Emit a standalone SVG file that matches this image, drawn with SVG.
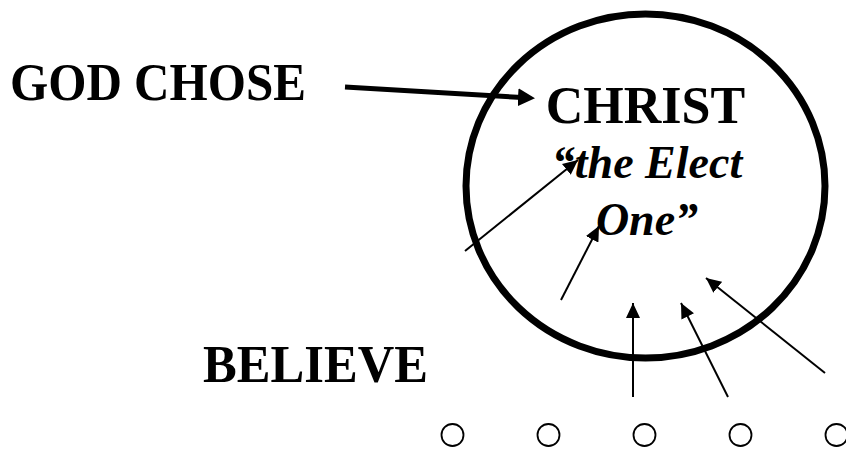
<svg xmlns="http://www.w3.org/2000/svg" width="846" height="449" viewBox="0 0 846 449">
<style>
  .lbl { font-family: "Liberation Serif", "Times New Roman", serif; font-weight: bold; fill: #000; }
  .it { font-style: italic; }
  .thin { stroke: #000; stroke-width: 2; fill: none; }
  .thick { stroke: #000; stroke-width: 5; fill: none; }
  .dot { stroke: #000; stroke-width: 1.8; fill: none; }
</style>
<defs>
  <marker id="ah" viewBox="0 0 15 14" refX="15" refY="7" markerWidth="15" markerHeight="14" markerUnits="userSpaceOnUse" orient="auto">
    <path d="M0,0 L15,7 L0,14 z" fill="#000"/>
  </marker>
  <marker id="ahBig" viewBox="0 0 17 18" refX="9" refY="9" markerWidth="17" markerHeight="18" markerUnits="userSpaceOnUse" orient="auto">
    <path d="M0,0 L17,9 L0,18 z" fill="#000"/>
  </marker>
</defs>
<rect width="846" height="449" fill="#fff"/>

<g id="connectors">
  <line class="thick" x1="345" y1="87" x2="527" y2="97.8" marker-end="url(#ahBig)"/>
  <line class="thin" x1="465" y1="251" x2="578" y2="160" marker-end="url(#ah)"/>
  <line class="thin" x1="561" y1="300" x2="599" y2="226" marker-end="url(#ah)"/>
  <line class="thin" x1="633" y1="397" x2="633" y2="303" marker-end="url(#ah)"/>
  <line class="thin" x1="728" y1="397" x2="681" y2="303" marker-end="url(#ah)"/>
  <line class="thin" x1="825" y1="373" x2="706" y2="278" marker-end="url(#ah)"/>
</g>

<g id="god-chose">
  <text class="lbl" x="10" y="100" font-size="52" textLength="296" lengthAdjust="spacingAndGlyphs">GOD CHOSE</text>
</g>

<g id="christ">
  <ellipse cx="645.5" cy="186" rx="179.5" ry="172" fill="none" stroke="#000" stroke-width="7"/>
  <text class="lbl" x="645.5" y="123" font-size="52" text-anchor="middle">CHRIST</text>
  <text class="lbl it" x="647" y="178" font-size="46" text-anchor="middle">“the Elect</text>
  <text class="lbl it" x="647" y="235" font-size="46" text-anchor="middle">One”</text>
</g>

<g id="believe">
  <text class="lbl" x="203" y="381.5" font-size="52" textLength="225" lengthAdjust="spacingAndGlyphs">BELIEVE</text>
</g>

<g id="believers">
  <circle class="dot" cx="452.5" cy="435" r="11"/>
  <circle class="dot" cx="548.5" cy="435" r="11"/>
  <circle class="dot" cx="644.5" cy="435" r="11"/>
  <circle class="dot" cx="740.5" cy="435" r="11"/>
  <circle class="dot" cx="836.5" cy="435" r="11"/>
</g>
</svg>
